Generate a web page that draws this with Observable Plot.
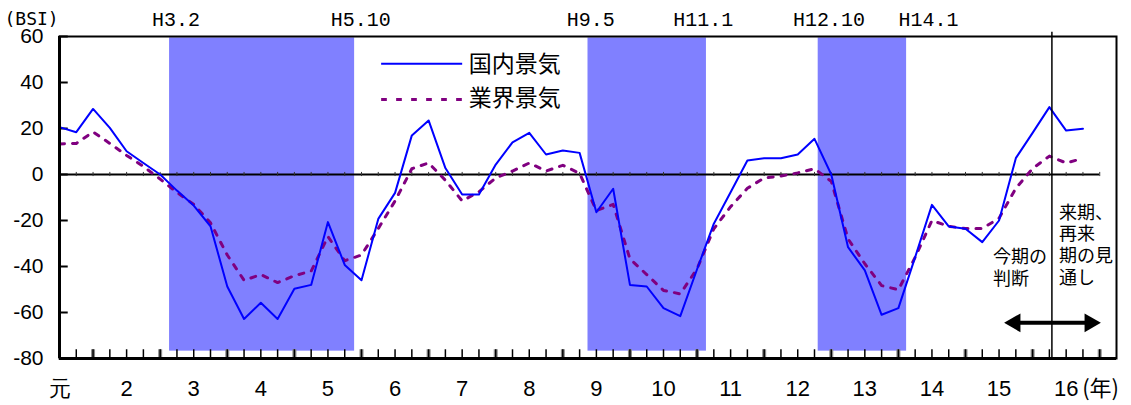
<!DOCTYPE html>
<html><head><meta charset="utf-8">
<script src="https://cdn.jsdelivr.net/npm/d3@7"></script>
<script src="https://cdn.jsdelivr.net/npm/@observablehq/plot@0.6"></script>
<style>body{margin:0;background:#fff} svg{display:block}</style>
</head><body><div id="chart"></div>
<script>
// Quarterly BSI values, index 0 = first quarter shown (元年)
const domestic = [20.6, 18.4, 28.5, 20.3, 10.1, 5, 0, -7, -13.5, -22.5, -48.7, -62.8, -55.8, -62.8, -49.7, -48, -20.7, -39.3, -46, -19.3, -8, 17, 23.5, 2.8, -8.7, -8.7, 4.3, 14, 18.1, 8.7, 10.4, 9.4, -16.4, -6.2, -48, -48.7, -58.1, -61.6, -41.2, -21.4, -7.7, 6.1, 7.1, 7.1, 8.7, 15.5, 0, -31.6, -41.7, -61, -58.1, -35.9, -13.2, -22.6, -23.6, -29.4, -20, 7.1, 18.1, 29.3, 19.1, 19.9];
const industry = [13.3, 13.5, 18.5, 13.5, 8.3, 3.5, -2, -7.8, -13, -21, -35, -46, -43.5, -47, -44, -42, -27, -37.5, -35, -23.5, -11.5, 2.5, 5, -2.5, -11.5, -7.5, -1.5, 1.5, 5, 1.5, 4, 0.5, -15.7, -13, -36.7, -43.5, -50.4, -51.9, -41, -23.6, -14, -6, -1.5, -0.7, 0.7, 2.5, -3, -28, -38.8, -48.3, -50.1, -36, -20, -22.5, -23.5, -23.5, -19, -6, 2.6, 8, 5, 7];
const seriesNames = ["国内景気", "業界景気"];
const yearLabels = ["元","2","3","4","5","6","7","8","9","10","11","12","13","14","15","16"];
const yearIndex = [0,4,8,12,16,20,24,28,32,36,40,44,48,52,56,60];
const yTicks = [60, 40, 20, 0, -20, -40, -60, -80];
const bandStart = [6.56, 31.5, 45.22];
const bandEnd = [17.59, 38.56, 50.49];
const bandLabels = ["H3.2", "H5.10", "H9.5", "H11.1", "H12.10", "H14.1"];
const bandLabelPos = [6.95, 17.95, 31.66, 38.37, 45.86, 51.79];
const quarterTicks = d3.range(1, 63);
const forecastSplit = 59.15;

const CJK = "Noto Sans CJK JP";
const SANS = "Liberation Sans";
const MONO = "Liberation Mono";
const idx = (d, i) => i;
const val = d => d;

const bands = bandStart.map((s, k) => ({x1: s, x2: bandEnd[k]}));

const plot = Plot.plot({
  width: 1131,
  height: 405,
  marginLeft: 59,
  marginRight: 15,
  marginTop: 36,
  marginBottom: 47,
  x: {domain: [0, 63], axis: null},
  y: {domain: [-80, 60], axis: null},
  style: {fontFamily: SANS, background: "white", color: "black"},
  marks: [
    Plot.rect(bands, {x1: "x1", x2: "x2", y1: -76.8, y2: 59.4, fill: "#8080FF"}),
    Plot.ruleY([0], {x1: 0, x2: 62, stroke: "black", strokeWidth: 2}),
    Plot.ruleX(quarterTicks, {y1: -0.9, y2: 0.9, stroke: "#333", strokeWidth: 1}),
    Plot.ruleX(quarterTicks.filter(i => i % 4 === 2), {y1: -80, y2: -76.2, stroke: "#888", strokeWidth: 4}),
    Plot.ruleX(quarterTicks, {y1: -80, y2: -76.2, stroke: "black", strokeWidth: 1.5}),
    Plot.ruleY(yTicks, {x1: 0, x2: 0.52, stroke: "black", strokeWidth: 2}),
    Plot.line(industry, {x: idx, y: val, stroke: "#800080", strokeWidth: 3, strokeDasharray: "5,8"}),
    Plot.line(domestic, {x: idx, y: val, stroke: "#0000FF", strokeWidth: 2}),
    Plot.ruleX([forecastSplit], {y1: -80, y2: 61.9, stroke: "black", strokeWidth: 1.5}),
    Plot.frame({stroke: "black", strokeWidth: 2}),
    Plot.ruleX([0], {stroke: "black", strokeWidth: 3}),
    Plot.ruleY([-80], {stroke: "black", strokeWidth: 3}),
    Plot.axisY({ticks: yTicks, tickSize: 0, tickPadding: 16, tickFormat: d => String(d), fontSize: 21, fontFamily: SANS}),
    Plot.text(yearIndex, {x: val, y: -80, dy: 30, text: (d, i) => yearLabels[i], fontSize: 22, fontFamily: (d, i) => i === 0 ? CJK : SANS, lineAnchor: "middle"}),
    Plot.text(["(年)"], {x: 60, y: -80, dx: 16, dy: 30, textAnchor: "start", fontSize: 22, fontFamily: CJK, lineAnchor: "middle"}),
    Plot.text(bandLabels, {x: (d, i) => bandLabelPos[i], y: 60, dy: -17, fontSize: 20, fontFamily: MONO, lineAnchor: "middle"}),
    Plot.text(["(BSI)"], {frameAnchor: "top-left", dx: -55, dy: -17, textAnchor: "start", lineAnchor: "middle", fontSize: 18, fontFamily: "DejaVu Sans Mono"}),
    // legend
    Plot.ruleY([48.1], {x1: 19.2, x2: 24.03, stroke: "#0000FF", strokeWidth: 2}),
    Plot.ruleY([32.6], {x1: 19.2, x2: 24.03, stroke: "#800080", strokeWidth: 3, strokeDasharray: "5.7,9.3"}),
    Plot.text(seriesNames, {x: 24.39, y: (d, i) => i === 0 ? 47.6 : 33, text: val, textAnchor: "start", lineAnchor: "middle", fontSize: 23, fontFamily: CJK}),
    // annotations
    Plot.text(["今期の\n判断"], {x: 55.64, y: -40, textAnchor: "start", lineAnchor: "middle", fontSize: 18, lineHeight: 1.22, fontFamily: CJK}),
    Plot.text(["来期、\n再来\n期の見\n通し"], {x: 59.57, y: -30.4, textAnchor: "start", lineAnchor: "middle", fontSize: 18, lineHeight: 1.22, fontFamily: CJK}),
    Plot.ruleY([-64.5], {x1: 56.9, x2: 61.5, stroke: "black", strokeWidth: 4}),
    Plot.dot([{x: 56.95, r: -90}, {x: 61.42, r: 90}], {x: "x", y: -64.5, rotate: "r", symbol: "triangle", r: 7, fill: "black", stroke: "none"})
  ]
});
document.getElementById("chart").appendChild(plot);
</script>
</body></html>
